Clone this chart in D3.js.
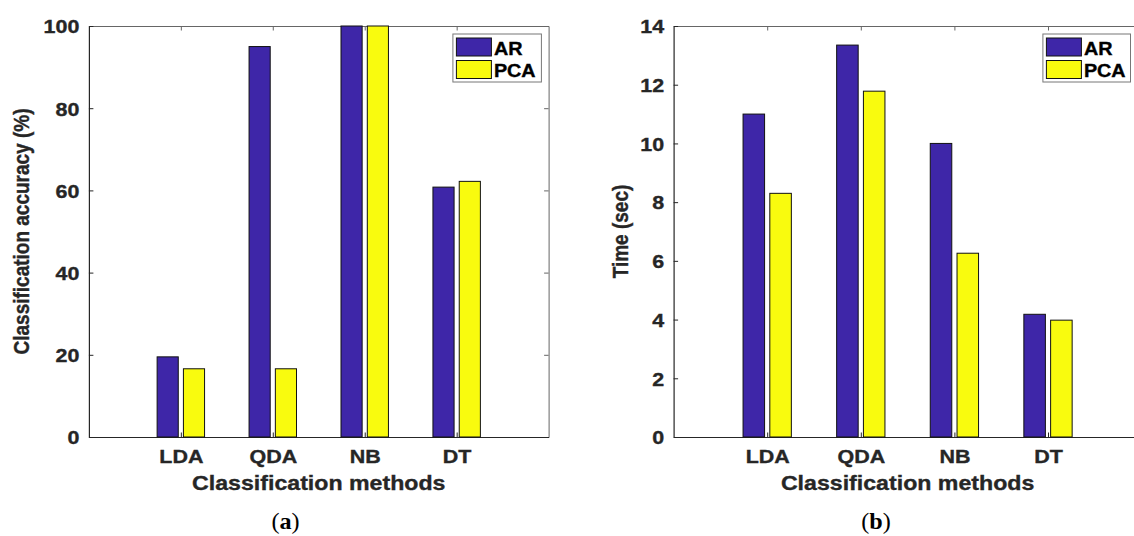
<!DOCTYPE html>
<html>
<head>
<meta charset="utf-8">
<script src="https://cdn.jsdelivr.net/npm/d3@7"></script>
<style>
  html, body { margin: 0; padding: 0; background: #fff; }
  svg { display: block; }
</style>
</head>
<body>
<svg id="chart" width="1134" height="536"></svg>
<script>
// ---------------- data ----------------
const categories = ["LDA", "QDA", "NB", "DT"];
const seriesNames = ["AR", "PCA"];
const accuracyAR  = [19.5, 95.0, 100, 60.8];
const accuracyPCA = [16.6, 16.6, 100, 62.2];
const timeAR  = [11.0, 13.35, 10.0, 4.18];
const timePCA = [8.3, 11.78, 6.26, 3.98];
const accuracyTicks = [0, 20, 40, 60, 80, 100];
const timeTicks = [0, 2, 4, 6, 8, 10, 12, 14];

// ---------------- style / layout ----------------
const colors = ["#3e26a8", "#f9fb0e"];
const SX = 1.13;            // horizontal text stretch seen in reference
const FONT = "'Liberation Sans', Arial, Helvetica, sans-serif";
const TXT = "#262626";
const HEAVY = 0.35;         // slight stroke to match heavier glyphs
const BAR_W = 0.23, BAR_OFF = 0.143;

const panels = [
  { left: 88.9, right: 548.6, top: 26, bottom: 437, yMax: 100, ticks: accuracyTicks,
    series: [accuracyAR, accuracyPCA], yTitle: "Classification accuracy (%)", yTitleX: 29,
    caption: "a", capX: 285.5, legX: 452.9, legW: 88.5 },
  { left: 673.6, right: 1141.6, top: 26, bottom: 437, yMax: 14, ticks: timeTicks,
    series: [timeAR, timePCA], yTitle: "Time (sec)", yTitleX: 628,
    caption: "b", capX: 876, legX: 1042.9, legW: 87.6 }
];

const svg = d3.select("#chart");

const heavy = sel => sel.attr("stroke", TXT).attr("stroke-width", HEAVY).attr("paint-order", "stroke");

panels.forEach(p => {
  const g = svg.append("g");
  const x = d3.scaleLinear().domain([0, 5]).range([p.left, p.right]);
  const y = d3.scaleLinear().domain([0, p.yMax]).range([p.bottom, p.top]);

  const styleAxis = (sel, col) => {
    sel.selectAll("path, line").attr("stroke", col).attr("stroke-width", 1);
    sel.attr("font-family", FONT);
  };
  const gTop = g.append("g").attr("transform", `translate(0,${p.top})`)
    .call(d3.axisTop(x).tickValues([1, 2, 3, 4]).tickSizeInner(-4.5).tickSizeOuter(0).tickFormat(""));
  styleAxis(gTop, "#666");
  const gRight = g.append("g").attr("transform", `translate(${p.right},0)`)
    .call(d3.axisRight(y).tickValues(p.ticks).tickSizeInner(-4.5).tickSizeOuter(0).tickFormat(""));
  styleAxis(gRight, "#666");

  const gLeft = g.append("g").attr("transform", `translate(${p.left},0)`)
    .call(d3.axisLeft(y).tickValues(p.ticks).tickSizeInner(-4.5).tickSizeOuter(0));
  styleAxis(gLeft, "#262626");
  gLeft.selectAll("text")
    .attr("x", null).attr("dy", "0.36em")
    .attr("transform", `translate(-9.5,0) scale(${SX},1)`)
    .attr("font-size", 19).attr("font-weight", "bold").attr("fill", TXT)
    .call(heavy);

  const gBottom = g.append("g").attr("transform", `translate(0,${p.bottom})`)
    .call(d3.axisBottom(x).tickValues([1, 2, 3, 4]).tickSizeInner(-4.5).tickSizeOuter(0)
      .tickFormat(d => categories[d - 1]));
  styleAxis(gBottom, "#262626");
  gBottom.selectAll("text")
    .attr("y", null).attr("dy", 0)
    .attr("transform", `translate(0,26) scale(${SX},1)`)
    .attr("font-size", 19).attr("font-weight", "bold").attr("fill", TXT)
    .call(heavy);
  gBottom.select(".domain").attr("stroke-width", 1.2);
  gLeft.select(".domain").attr("stroke-width", 1.2);

  // bars
  p.series.forEach((vals, s) => {
    const off = s === 0 ? -BAR_OFF : BAR_OFF;
    g.append("g").selectAll("rect").data(vals).join("rect")
      .attr("x", (d, i) => x(i + 1 + off - BAR_W / 2))
      .attr("width", x(BAR_W) - x(0))
      .attr("y", d => y(d))
      .attr("height", d => y(0) - y(d))
      .attr("fill", colors[s])
      .attr("stroke", "#111")
      .attr("stroke-width", 1);
  });

  // axis titles
  g.append("text")
    .attr("transform", `translate(${(p.left + p.right) / 2},490) scale(${SX},1)`)
    .attr("text-anchor", "middle")
    .attr("font-family", FONT).attr("font-size", 20.5).attr("font-weight", "bold")
    .attr("fill", TXT).call(heavy)
    .text("Classification methods");
  g.append("text")
    .attr("transform", `translate(${p.yTitleX},${(p.top + p.bottom) / 2}) scale(${SX},1) rotate(-90)`)
    .attr("text-anchor", "middle")
    .attr("font-family", FONT).attr("font-size", 19).attr("font-weight", "bold")
    .attr("fill", TXT).call(heavy)
    .text(p.yTitle);

  // legend
  const lg = g.append("g");
  lg.append("rect").attr("x", p.legX).attr("y", 34).attr("width", p.legW).attr("height", 48)
    .attr("fill", "#fff").attr("stroke", "#777").attr("stroke-width", 1);
  seriesNames.forEach((name, s) => {
    const yy = 38 + s * 22.5;
    lg.append("rect").attr("x", p.legX + 3.5).attr("y", yy).attr("width", 35).attr("height", 18)
      .attr("fill", colors[s]).attr("stroke", "#111").attr("stroke-width", 1);
    lg.append("text")
      .attr("transform", `translate(${p.legX + 41},${yy + 16.5}) scale(${SX},1)`)
      .attr("font-family", FONT).attr("font-size", 17.5).attr("font-weight", "bold")
      .attr("fill", "#000")
      .attr("stroke", "#000").attr("stroke-width", HEAVY).attr("paint-order", "stroke")
      .text(name);
  });

  // caption
  const cap = svg.append("text")
    .attr("transform", `translate(${p.capX},529) scale(1.05,1)`)
    .attr("text-anchor", "middle")
    .attr("font-family", "'Liberation Serif', 'DejaVu Serif', serif").attr("font-size", 23)
    .attr("fill", "#000");
  cap.append("tspan").text("(");
  cap.append("tspan").attr("font-weight", "bold").text(p.caption);
  cap.append("tspan").text(")");
});
</script>
</body>
</html>
